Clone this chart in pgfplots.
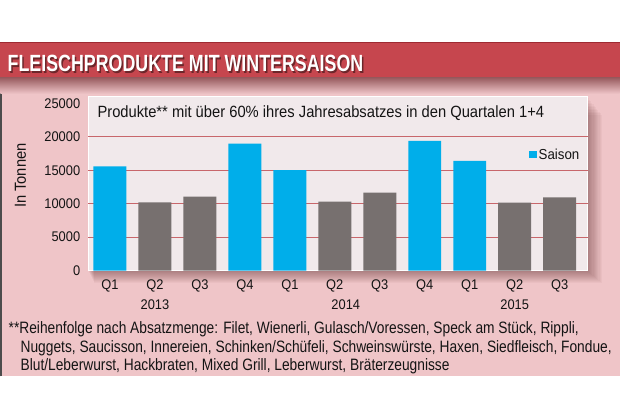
\documentclass[border=0pt]{standalone}
\usepackage{fontspec}
\setmainfont{Liberation Sans}[FakeStretch=0.92]
\newfontfamily\titlefont{Liberation Sans}[FakeStretch=0.76]
\newfontfamily\notefont{Liberation Sans}[FakeStretch=0.835]
\newfontfamily\subfont{Liberation Sans}[FakeStretch=0.905]
\usepackage{pgfplots}
\pgfplotsset{compat=1.18}

\definecolor{banner}{HTML}{C6464E}
\definecolor{bannerdark}{HTML}{9E2A32}
\definecolor{panel}{HTML}{EFC5C8}
\definecolor{boxfill}{HTML}{F1E9EB}
\definecolor{gridred}{HTML}{C8666B}
\definecolor{saison}{HTML}{00AEEA}
\definecolor{barsgray}{HTML}{77706F}
\definecolor{txt}{HTML}{141414}

\begin{document}
\begin{tikzpicture}[x=1bp,y=1bp]
% page and panel
\fill[white] (0,0) rectangle (620,420);
\fill[panel] (0,43) rectangle (620,343);
\draw[black!70, line width=1.5bp] (0.75,43) -- (0.75,343);
\shade[top color=banner!55!black!70!panel, bottom color=panel] (0,343) rectangle (620,326);
\fill[banner] (0,343) rectangle (620,378);
\draw[bannerdark, line width=1bp] (0,377.5) -- (620,377.5);
\node[anchor=base west, inner sep=0, text=black, opacity=0.45] at (8.5,346.5)
  {\titlefont\fontsize{23.5bp}{26bp}\selectfont\bfseries FLEISCHPRODUKTE MIT WINTERSAISON};
\node[anchor=base west, inner sep=0, text=white] at (7,348)
  {\titlefont\fontsize{23.5bp}{26bp}\selectfont\bfseries FLEISCHPRODUKTE MIT WINTERSAISON};

% soft shadow of the plot box
\foreach \i in {1,...,12} {
  \fill[black!80!red, opacity=0.03] (88+0.5*\i,149-1.0*\i) rectangle (588+1.2*\i,323-1.5*\i);
}

\begin{axis}[
    at={(88bp,149bp)}, anchor=south west,
    scale only axis, width=500bp, height=174bp,
    xmin=-0.48, xmax=10.62,
    ymin=0, ymax=26000,
    ybar, bar width=33bp, bar shift=0pt,
    axis background/.style={fill=boxfill},
    axis line style={white, line width=1bp},
    major tick length=0pt,
    ytick={0,5000,...,25000},
    extra y ticks={5000,10000,15000,20000},
    extra y tick labels={},
    extra y tick style={grid=major, major grid style={gridred, line width=1bp}},
    yticklabel style={font=\fontsize{14bp}{16bp}\selectfont, text=txt, anchor=east, inner sep=0pt, xshift=-8bp},
    /pgf/number format/assume math mode=true,
    /pgf/number format/1000 sep={},
    scaled y ticks=false,
    xtick={0,...,10},
    xticklabels={Q1,{Q2\\2013},Q3,Q4,Q1,{Q2\\\hspace*{22bp}2014},Q3,Q4,Q1,{Q2\\2015},Q3},
    xticklabel style={font=\fontsize{14bp}{20bp}\selectfont, text=txt, align=center, anchor=north, inner sep=0pt, yshift=-9bp},
    ylabel={In Tonnen},
    ylabel style={at={(axis description cs:-0.136,0.546)}, anchor=center, font=\fontsize{16bp}{18bp}\selectfont, text=txt},
    legend style={at={(1,1)}, anchor=north east, xshift=-6bp, yshift=-50bp, draw=none, fill=none, inner sep=0pt,
      font=\fontsize{14.5bp}{16bp}\selectfont, text=txt},
    legend image code/.code={\fill[#1] (0bp,-3.5bp) rectangle (8bp,3.5bp);},
  ]
  % Saison quarters (Q1 and Q4)
  \addplot[fill=saison, draw=none] coordinates {
    (0,15600) (3,19000) (4,15050) (7,19400) (8,16400)
  };
  \addlegendentry{Saison}
  % other quarters
  \addplot[fill=barsgray, draw=none, forget plot] coordinates {
    (1,10200) (2,11050) (5,10300) (6,11650) (9,10150) (10,10950)
  };
\end{axis}

% subtitle inside the box
\node[anchor=base west, inner sep=0, text=txt] at (97,302)
  {\subfont\fontsize{16.3bp}{18bp}\selectfont Produkte** mit über 60\% ihres Jahresabsatzes in den Quartalen 1+4};

% footnote
\begin{scope}[every node/.style={anchor=base west, inner sep=0, text=txt, font=\notefont\fontsize{16.5bp}{18bp}\selectfont}]
\node at (8,86) {**Reihenfolge nach Absatzmenge: Filet, Wienerli, Gulasch/Voressen, Speck am Stück, Rippli,};
\node at (20,67) {Nuggets, Saucisson, Innereien, Schinken/Schüfeli, Schweinswürste, Haxen, Siedfleisch, Fondue,};
\node at (20,49) {Blut/Leberwurst, Hackbraten, Mixed Grill, Leberwurst, Bräterzeugnisse};
\end{scope}
\end{tikzpicture}
\end{document}
